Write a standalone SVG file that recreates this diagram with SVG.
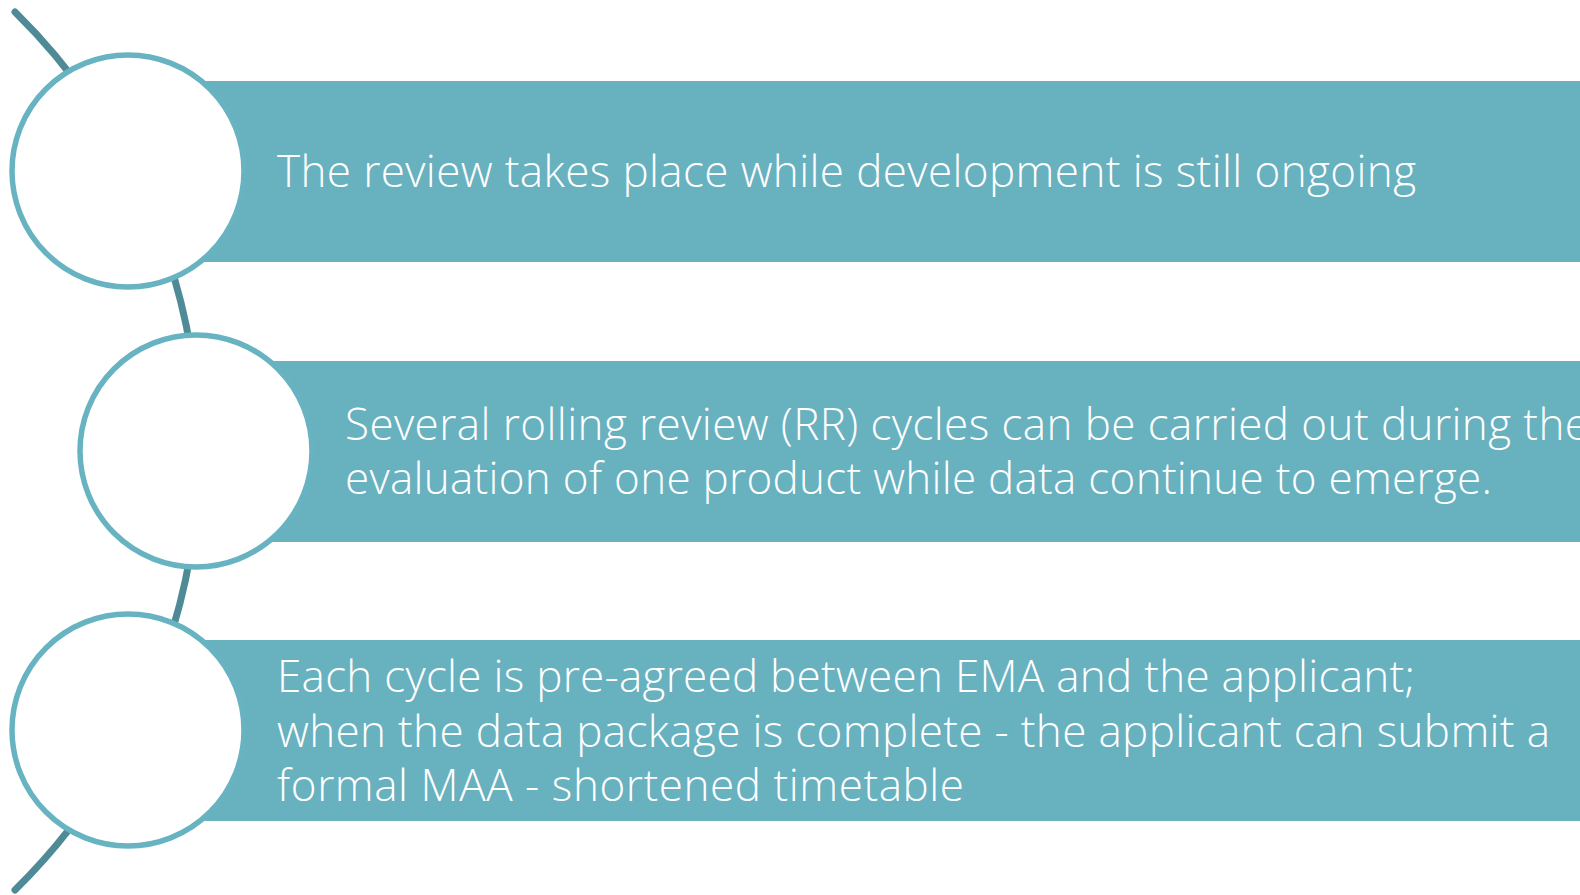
<svg xmlns="http://www.w3.org/2000/svg" width="1580" height="895" viewBox="0 0 1580 895">
  <style>
    .band { fill: #68b1bf; }
    .disc { fill: #ffffff; stroke: #68b3c1; stroke-width: 5.5; }
    .spine { fill: none; stroke: #4f8b97; stroke-width: 7; stroke-linecap: round; }
    .label { fill: #ffffff; font-family: "Open Sans", "Noto Sans", "Liberation Sans", sans-serif; font-size: 44px; font-weight: 300; }
  </style>
  <rect width="1580" height="895" fill="#ffffff"/>

  <!-- curved spine linking the three discs -->
  <g id="connectors">
    <path class="spine" d="M 15 12 A 615.7 615.7 0 0 1 15 890"/>
  </g>

  <g id="step1">
    <rect class="band" x="128" y="81" width="1452" height="181"/>
    <circle class="disc" cx="128" cy="171" r="116"/>
    <text class="label" x="277" y="187" textLength="1139" lengthAdjust="spacing">The review takes place while development is still ongoing</text>
  </g>

  <g id="step2">
    <rect class="band" x="196" y="361" width="1384" height="181"/>
    <circle class="disc" cx="196" cy="451" r="116"/>
    <text class="label" x="345" y="440" textLength="1244" lengthAdjust="spacing">Several rolling review (RR) cycles can be carried out during the</text>
    <text class="label" x="345" y="494" textLength="1147" lengthAdjust="spacing">evaluation of one product while data continue to emerge.</text>
  </g>

  <g id="step3">
    <rect class="band" x="128" y="640" width="1452" height="181"/>
    <circle class="disc" cx="128" cy="730" r="116"/>
    <text class="label" x="277" y="692" textLength="1138" lengthAdjust="spacing">Each cycle is pre-agreed between EMA and the applicant;</text>
    <text class="label" x="277" y="747" textLength="1273" lengthAdjust="spacing">when the data package is complete - the applicant can submit a</text>
    <text class="label" x="277" y="801" textLength="687" lengthAdjust="spacing">formal MAA - shortened timetable</text>
  </g>
</svg>
